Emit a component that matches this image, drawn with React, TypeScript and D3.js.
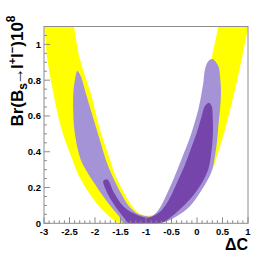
import * as d3 from 'd3'

// contour outlines, [ΔC, Br x 1e8]
const yellowBand: [number, number][] = [
  [-3.06, 1.16], [-3.0, 1.102], [-2.935, 0.916], [-2.817, 0.73], [-2.673, 0.543],
  [-2.444, 0.357], [-2.314, 0.264], [-2.118, 0.171], [-1.922, 0.096], [-1.725, 0.04],
  [-1.51, 0.0], [-0.7, 0.0], [-0.4, 0.05], [-0.05, 0.14], [0.1, 0.22], [0.3, 0.3],
  [0.372, 0.357], [0.568, 0.543], [0.732, 0.73], [0.875, 0.916], [1.006, 1.102], [1.04, 1.16],
  [0.46, 1.16], [0.418, 1.102], [0.353, 1.009], [0.287, 0.916], [0.25, 0.73], [0.15, 0.54],
  [0.0, 0.36], [-0.3, 0.17], [-0.55, 0.1], [-0.75, 0.06], [-0.85, 0.046], [-1.0, 0.044],
  [-1.105, 0.05], [-1.268, 0.096], [-1.431, 0.171], [-1.595, 0.264], [-1.706, 0.357],
  [-1.922, 0.543], [-2.085, 0.73], [-2.294, 0.916], [-2.412, 1.102], [-2.44, 1.16],
]

const lavenderBand: [number, number][] = [
  [-2.346, 0.851], [-2.392, 0.804], [-2.425, 0.73], [-2.428, 0.636], [-2.412, 0.543],
  [-2.366, 0.45], [-2.281, 0.357], [-2.183, 0.301], [-2.02, 0.227], [-1.889, 0.171],
  [-1.693, 0.096], [-1.529, 0.04], [-1.431, 0.0], [-0.726, 0.0], [-0.399, 0.04],
  [-0.138, 0.096], [0.058, 0.171], [0.25, 0.264], [0.31, 0.31], [0.35, 0.37], [0.39, 0.45],
  [0.418, 0.543], [0.451, 0.636], [0.47, 0.73], [0.451, 0.823], [0.418, 0.879], [0.3, 0.918],
  [0.222, 0.906], [0.156, 0.86], [0.124, 0.785], [0.091, 0.73], [0.026, 0.636], [-0.06, 0.55],
  [-0.15, 0.47], [-0.26, 0.39], [-0.37, 0.31], [-0.47, 0.24], [-0.58, 0.171],
  [-0.7, 0.1], [-0.8, 0.059], [-0.9, 0.04], [-1.137, 0.05], [-1.333, 0.096],
  [-1.497, 0.171], [-1.66, 0.264], [-1.791, 0.357], [-1.889, 0.45], [-1.987, 0.543],
  [-2.085, 0.636], [-2.183, 0.73], [-2.281, 0.823],
]

const darkBand: [number, number][] = [
  [-1.837, 0.236], [-1.791, 0.19], [-1.693, 0.134], [-1.562, 0.078], [-1.431, 0.031],
  [-1.333, 0.0], [-0.726, 0.0], [-0.53, 0.031], [-0.334, 0.078], [-0.138, 0.134],
  [0.058, 0.208], [0.22, 0.301], [0.28, 0.394], [0.31, 0.487], [0.31, 0.581],
  [0.287, 0.655], [0.235, 0.674], [0.156, 0.655], [0.091, 0.599], [0.0, 0.51],
  [-0.14, 0.4], [-0.26, 0.31], [-0.38, 0.235], [-0.5, 0.16], [-0.62, 0.1],
  [-0.75, 0.059], [-0.974, 0.031], [-1.203, 0.05], [-1.444, 0.096], [-1.627, 0.171],
  [-1.758, 0.245],
]

const xTicks = [-3, -2.5, -2, -1.5, -1, -0.5, 0, 0.5, 1]
const yTicks = [0, 0.2, 0.4, 0.6, 0.8, 1]

const W = 276
const H = 264
const FRAME = { left: 44, right: 248, top: 26.5, bottom: 223.3 }

export default function App() {
  const x = d3.scaleLinear().domain([-3, 1]).range([FRAME.left, FRAME.right])
  const y = d3.scaleLinear().domain([0, 1.1]).range([FRAME.bottom, FRAME.top])
  const area = d3.line<[number, number]>()
    .x(d => x(d[0])).y(d => y(d[1]))
    .curve(d3.curveCatmullRomClosed.alpha(0.5))

  const xMinor = d3.range(-3, 1.0001, 0.1)
  const yMinor = d3.range(0, 1.1001, 0.05)
  const font = '"Liberation Sans", Arial, sans-serif'

  return (
    <svg width={W} height={H} style={{ position: 'fixed', left: 0, top: 0, background: '#fff' }}>
      <defs>
        <clipPath id="frame">
          <rect x={FRAME.left} y={FRAME.top} width={FRAME.right - FRAME.left} height={FRAME.bottom - FRAME.top} />
        </clipPath>
      </defs>
      <g clipPath="url(#frame)">
        <path d={area(yellowBand) ?? ''} fill="#ffff00" />
        <path d={area(lavenderBand) ?? ''} fill="#a493d6" />
        <path d={area(darkBand) ?? ''} fill="#7645ab" />
      </g>
      <rect x={FRAME.left} y={FRAME.top} width={FRAME.right - FRAME.left} height={FRAME.bottom - FRAME.top}
        fill="none" stroke="#8c8c8c" strokeWidth={1} />
      <g stroke="#8c8c8c" strokeWidth={1}>
        {xMinor.map((v, i) => {
          const major = i % 5 === 0
          return <line key={'xm' + i} x1={x(v)} x2={x(v)} y1={FRAME.bottom} y2={FRAME.bottom - (major ? 6 : 3)} />
        })}
        {yMinor.map((v, i) => {
          const major = i % 4 === 0
          return <line key={'ym' + i} x1={FRAME.left} x2={FRAME.left + (major ? 6 : 3)} y1={y(v)} y2={y(v)} />
        })}
      </g>
      <g fontFamily={font} fontWeight="bold" fontSize={9.5} fill="#000">
        {xTicks.map(v => (
          <text key={'xt' + v} x={x(v)} y={235} textAnchor="middle">{String(v)}</text>
        ))}
        {yTicks.map(v => (
          <text key={'yt' + v} x={41} y={y(v) + 3.5} textAnchor="end">{String(v)}</text>
        ))}
      </g>
      <text x={248} y={250} textAnchor="end" fontFamily={font} fontWeight="bold" fontSize={16}>ΔC</text>
      <text transform="translate(23,71) rotate(-90)" textAnchor="middle" fontFamily={font} fontWeight="bold" fontSize={17}>
        Br(B<tspan fontSize={12} dy={4}>s</tspan><tspan dy={-4} dx={-1.5}>→</tspan><tspan dx={-1.5}>l</tspan>
        <tspan fontSize={11} dy={-7}>+</tspan><tspan dy={7}>l</tspan>
        <tspan fontSize={11} dy={-7}>−</tspan><tspan dy={7}>)10</tspan>
        <tspan fontSize={12} dy={-8}>8</tspan>
      </text>
    </svg>
  )
}
